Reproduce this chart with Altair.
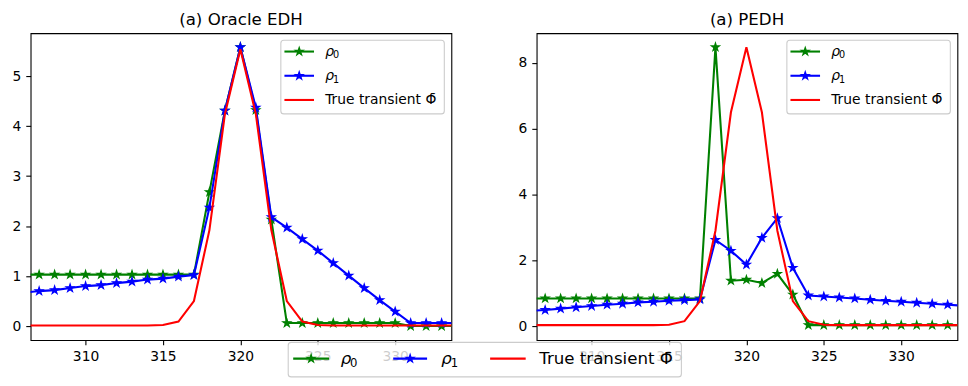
import math
import altair as alt
import pandas as pd

# ---------------- data ----------------
x_vals = list(range(306, 335))

oracle_rho0 = [1.03] * 12 + [2.68, 4.31, 5.58, 4.32, 2.13, 0.06] + [0.06] * 7 + [0.0] * 4
oracle_rho1 = [0.67, 0.70, 0.72, 0.76, 0.80, 0.82, 0.86, 0.89, 0.93, 0.95, 0.99, 1.02,
               2.37, 4.31, 5.58, 4.37, 2.18, 1.97, 1.74, 1.51, 1.26, 1.01, 0.76, 0.52,
               0.29, 0.06, 0.06, 0.06, 0.06]
oracle_true = [0.01] * 9 + [0.02, 0.09, 0.50, 1.92, 4.24, 5.54, 4.24, 1.92, 0.50, 0.09, 0.02] + [0.01] * 9

pedh_rho0 = [0.84] * 12 + [8.48, 1.38, 1.41, 1.31, 1.59, 0.96, 0.03] + [0.03] * 10
pedh_rho1 = [0.46, 0.49, 0.53, 0.57, 0.61, 0.65, 0.68, 0.72, 0.74, 0.77, 0.79, 0.81,
             2.62, 2.29, 1.87, 2.68, 3.28, 1.77, 0.93, 0.90, 0.87, 0.84, 0.80, 0.77,
             0.74, 0.71, 0.68, 0.65, 0.62]
pedh_true = [0.03] * 9 + [0.04, 0.15, 0.76, 2.90, 6.50, 8.48, 6.50, 2.90, 0.76, 0.15, 0.04] + [0.03] * 9

series_names = ["rho0", "rho1", "true"]
series_colors = ["#008000", "#0000ff", "#ff0000"]
series_markers = [True, True, False]
legend_main = ["ρ", "ρ", "True transient Φ̄"]
legend_sub = ["0", "1", ""]

x_ticks = [310, 315, 320, 325, 330]
x_domain = [306.45, 333.63]
oracle_ydomain = [-0.279, 5.859]
oracle_yticks = [0, 1, 2, 3, 4, 5]
pedh_ydomain = [-0.424, 8.904]
pedh_yticks = [0, 2, 4, 6, 8]

titles = ["(a) Oracle EDH", "(a) PEDH"]

# ---------------- style ----------------
FONT = "DejaVu Sans"
LW = 2.08
STAR_SIZE = 69
W, H = 422.4, 308

pts = []
for k in range(10):
    r = 1.0 if k % 2 == 0 else 0.381966
    a = math.radians(-90 + 36 * k)
    pts.append(f"{r * math.cos(a):.4f},{r * math.sin(a):.4f}")
STAR = "M" + "L".join(pts) + "Z"

one = pd.DataFrame({"k": [0]})


def make_df(r0, r1, tr):
    rows = []
    for name, vals in zip(series_names, [r0, r1, tr]):
        for x, v in zip(x_vals, vals):
            rows.append({"x": x, "value": v, "series": name})
    return pd.DataFrame(rows)


def rule(x1, x2, y, color):
    return alt.Chart(one).mark_rule(color=color, strokeWidth=LW).encode(
        x=alt.value(x1), x2=alt.value(x2), y=alt.value(y))


def star(x, y, color):
    return alt.Chart(one).mark_point(shape=STAR, size=STAR_SIZE, filled=True, color=color,
                                     stroke=color, strokeWidth=1.2, opacity=1).encode(
        x=alt.value(x), y=alt.value(y))


def text(x, y, s, size, italic=False, align="left"):
    return alt.Chart(one).mark_text(align=align, baseline="alphabetic", fontSize=size, font=FONT,
                                    fontStyle="italic" if italic else "normal",
                                    color="black").encode(
        x=alt.value(x), y=alt.value(y), text=alt.value(s))


def box(x1, x2, y1, y2):
    return alt.Chart(one).mark_rect(fill="white", fillOpacity=0.8, stroke="#cccccc",
                                    strokeWidth=1.1, cornerRadius=3).encode(
        x=alt.value(x1), x2=alt.value(x2), y=alt.value(y1), y2=alt.value(y2))


def legend_entry(lx1, lx2, ly, lab_x, idx, fsize):
    col = series_colors[idx]
    out = [rule(lx1, lx2, ly, col)]
    if series_markers[idx]:
        out.append(star((lx1 + lx2) / 2, ly, col))
    base_y = ly + 0.3 * fsize
    if legend_sub[idx]:
        out.append(text(lab_x, base_y, legend_main[idx], fsize, italic=True))
        out.append(text(lab_x + 0.56 * fsize, base_y + 0.2 * fsize, legend_sub[idx], 0.7 * fsize))
    else:
        out.append(text(lab_x, base_y, legend_main[idx], fsize))
    return out


def inside_legend():
    layers = [box(251.2, 415.3, 7, 81)]
    for i, ly in enumerate([18.4, 42.7, 67.0]):
        layers += legend_entry(254.8, 284.5, ly, 295.7, i, 13.9)
    return layers


def bottom_legend():
    layers = [box(-249.4, 145.3, 310.4, 345.0)]
    ly = 326.7
    specs = [(-244.4, -208.4, -196.7), (-144.0, -110.0, -95.7), (-46.7, -11.0, 2.6)]
    for i, (a, b, c) in enumerate(specs):
        layers += legend_entry(a, b, ly, c, i, 16.7)
    return layers


def panel(df, title, ydom, yticks, extra):
    xs = alt.X("x:Q", scale=alt.Scale(domain=x_domain, nice=False, zero=False),
               axis=alt.Axis(values=x_ticks, title=None, format="d"))
    ys = alt.Y("value:Q", scale=alt.Scale(domain=ydom, nice=False, zero=False),
               axis=alt.Axis(values=yticks, title=None, format="d"))
    layers = []
    for name, col, mk in zip(series_names, series_colors, series_markers):
        base = alt.Chart(df).transform_filter(alt.datum.series == name)
        layers.append(base.mark_line(color=col, strokeWidth=LW, clip=True).encode(x=xs, y=ys))
        if mk:
            layers.append(base.mark_point(shape=STAR, size=STAR_SIZE, filled=True, color=col,
                                          stroke=col, strokeWidth=1.2, opacity=1,
                                          clip=True).encode(x=xs, y=ys))
    layers += inside_legend()
    layers += extra
    layers.append(text(W / 2, -8.3, title, 16.7, align="center"))
    return alt.layer(*layers).properties(width=W, height=H)


p1 = panel(make_df(oracle_rho0, oracle_rho1, oracle_true), titles[0], oracle_ydomain, oracle_yticks, [])
p2 = panel(make_df(pedh_rho0, pedh_rho1, pedh_true), titles[1], pedh_ydomain, pedh_yticks, bottom_legend())

chart = alt.hconcat(p1, p2, spacing=85, bounds="flush").properties(
    padding={"left": 2.7, "top": 2.6, "right": 2, "bottom": 0},
    background="white",
).configure_view(
    stroke="black", strokeWidth=1.1
).configure_axis(
    labelFont=FONT, labelFontSize=13.9, labelColor="black", tickColor="black",
    tickSize=4.86, tickWidth=1.1, labelPadding=5, domain=False, grid=False
)

chart.save("out.html", embed_options={"renderer": "svg", "actions": False})
